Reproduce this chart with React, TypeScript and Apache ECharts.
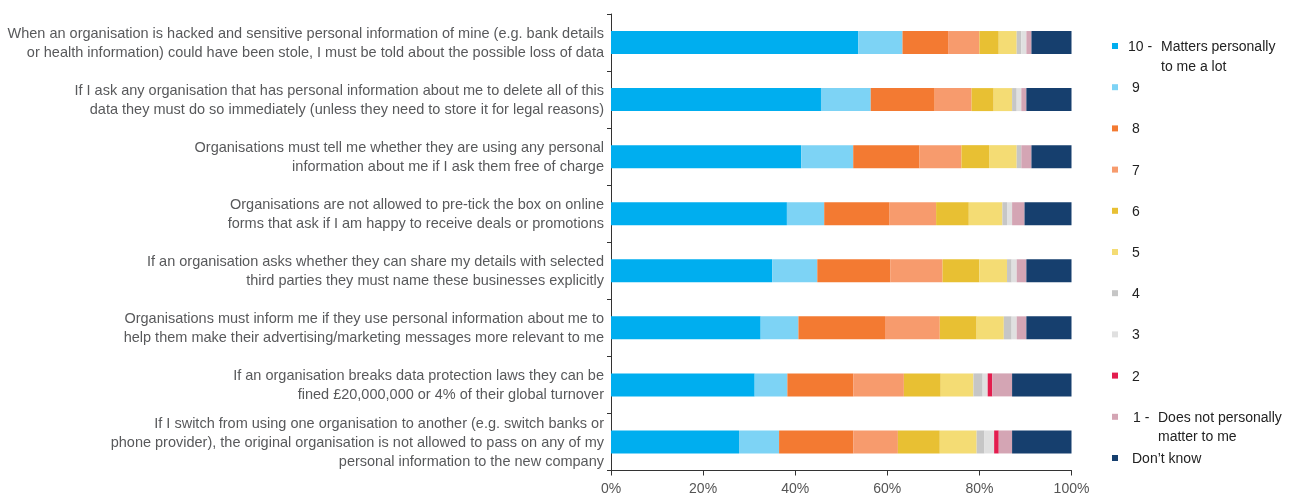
import React, { useEffect, useRef } from "react";
import * as echarts from "echarts";

const categories = [
  "When an organisation is hacked and sensitive personal information of mine (e.g. bank details\nor health information) could have been stole, I must be told about the possible loss of data",
  "If I ask any organisation that has personal information about me to delete all of this\ndata they must do so immediately (unless they need to store it for legal reasons)",
  "Organisations must tell me whether they are using any personal\ninformation about me if I ask them free of charge",
  "Organisations are not allowed to pre-tick the box on online\nforms that ask if I am happy to receive deals or promotions",
  "If an organisation asks whether they can share my details with selected\nthird parties they must name these businesses explicitly",
  "Organisations must inform me if they use personal information about me to\nhelp them make their advertising/marketing messages more relevant to me",
  "If an organisation breaks data protection laws they can be\nfined £20,000,000 or 4% of their global turnover",
  "If I switch from using one organisation to another (e.g. switch banks or\nphone provider), the original organisation is not allowed to pass on any of my\npersonal information to the new company",
];

const seriesNames = ["10", "9", "8", "7", "6", "5", "4", "3", "2", "1", "Don’t know"];

const s10 = [53.7, 45.6, 41.3, 38.2, 35.0, 32.5, 31.2, 27.8];
const s9 = [9.6, 10.8, 11.3, 8.1, 9.8, 8.2, 7.1, 8.7];
const s8 = [9.9, 13.9, 14.4, 14.2, 15.9, 18.8, 14.3, 16.1];
const s7 = [6.8, 8.0, 9.1, 10.1, 11.3, 11.9, 11.0, 9.7];
const s6 = [4.2, 4.8, 6.0, 7.1, 8.0, 8.0, 8.0, 9.1];
const s5 = [3.9, 4.0, 6.0, 7.3, 6.0, 5.9, 7.1, 8.0];
const s4 = [1.0, 1.0, 1.0, 1.0, 1.0, 1.7, 2.0, 1.7];
const s3 = [1.1, 1.0, 0, 1.1, 1.1, 1.1, 1.1, 2.1];
const s2 = [0, 0, 0, 0, 0, 0, 1.0, 1.0];
const s1 = [1.1, 1.1, 2.2, 2.7, 2.1, 2.1, 4.3, 2.9];
const sDK = [8.7, 9.8, 8.7, 10.2, 9.8, 9.8, 12.9, 12.9];

const seriesData = [s10, s9, s8, s7, s6, s5, s4, s3, s2, s1, sDK];

const colors = [
  "#00AEEF",
  "#7DD3F5",
  "#F37A32",
  "#F79B6D",
  "#E8C033",
  "#F4DC74",
  "#C6C6C6",
  "#E0E0E0",
  "#E31D4E",
  "#D4A5B4",
  "#163F6E",
];

const xTicks = [0, 20, 40, 60, 80, 100];

const FONT = "'Liberation Sans', Arial, sans-serif";

export default function App() {
  const ref = useRef<HTMLDivElement>(null);
  useEffect(() => {
    if (!ref.current) return;
    const chart = echarts.init(ref.current, undefined, { renderer: "svg" });
    const legendFormatter = (name: string) => {
      if (name === "10") return "{n|10 -}{t|Matters personally}";
      if (name === "1") return "{m|1 -}{t|Does not personally}";
      return "{p|" + name + "}";
    };
    chart.setOption({
      animation: false,
      textStyle: { fontFamily: FONT },
      grid: { left: 611, right: 233.5, top: 14, bottom: 27.5, containLabel: false },
      xAxis: {
        type: "value",
        min: xTicks[0],
        max: xTicks[xTicks.length - 1],
        interval: 20,
        axisLine: { show: true, lineStyle: { color: "#333", width: 1 } },
        axisTick: { show: true, length: 5, lineStyle: { color: "#333" } },
        splitLine: { show: false },
        axisLabel: {
          formatter: "{value}%",
          color: "#555",
          fontSize: 14,
          margin: 10,
          fontFamily: FONT,
        },
      },
      yAxis: {
        type: "category",
        inverse: true,
        data: categories,
        axisLine: { show: true, lineStyle: { color: "#333", width: 1 } },
        axisTick: { show: true, length: 4, lineStyle: { color: "#333" } },
        axisLabel: {
          color: "#58595b",
          fontSize: 14.5,
          lineHeight: 19,
          margin: 7,
          align: "right",
          fontFamily: FONT,
        },
      },
      legend: {
        orient: "vertical",
        left: 1112,
        top: 36,
        padding: 0,
        itemWidth: 6,
        itemHeight: 6,
        itemGap: 21.2,
        icon: "rect",
        data: seriesNames,
        formatter: legendFormatter,
        textStyle: {
          color: "#222",
          fontSize: 14,
          lineHeight: 20,
          fontFamily: FONT,
          rich: {
            n: { width: 33, padding: [0, 0, 0, 5], fontSize: 14, lineHeight: 20, color: "#222", fontFamily: FONT },
            m: { width: 25, padding: [0, 0, 0, 10], fontSize: 14, lineHeight: 20, color: "#222", fontFamily: FONT },
            p: { padding: [0, 0, 0, 9], fontSize: 14, lineHeight: 20, color: "#222", fontFamily: FONT },
            t: { fontSize: 14, lineHeight: 20, color: "#222", fontFamily: FONT },
          },
        },
      },
      graphic: [
        {
          type: "text",
          left: 1161,
          top: 59,
          style: { text: "to me a lot", fill: "#222", font: `14px ${FONT}` },
        },
        {
          type: "text",
          left: 1158,
          top: 429,
          style: { text: "matter to me", fill: "#222", font: `14px ${FONT}` },
        },
      ],
      series: seriesNames.map((name, i) => ({
        name,
        type: "bar",
        stack: "total",
        barWidth: 23,
        data: seriesData[i],
        itemStyle: { color: colors[i] },
        emphasis: { disabled: true },
      })),
    });
    return () => chart.dispose();
  }, []);
  return (
    <div
      ref={ref}
      style={{ position: "fixed", left: 0, top: 0, width: 1305, height: 498 }}
    />
  );
}
